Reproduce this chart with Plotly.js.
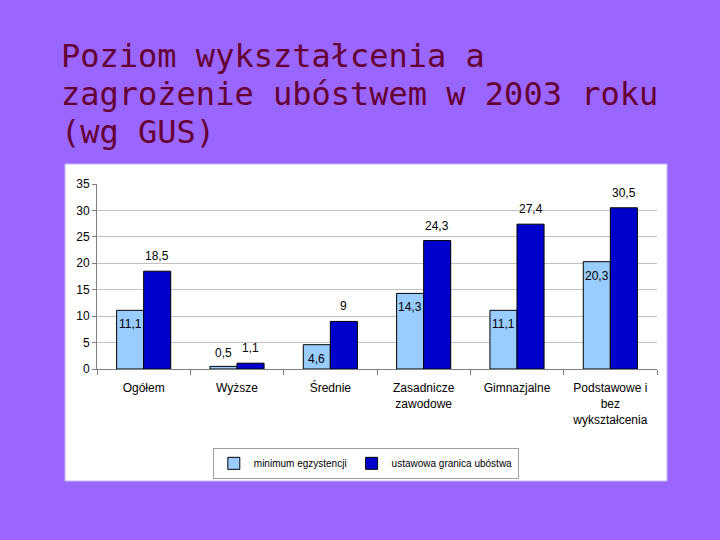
<!DOCTYPE html>
<html>
<head>
<meta charset="utf-8">
<script src="https://cdn.plot.ly/plotly-3.0.1.min.js"></script>
<style>html,body{margin:0;padding:0;background:#9966FF;}</style>
</head>
<body>
<div id="chart" style="width:720px;height:540px;"></div>
<script>
const categories = ["Ogółem", "Wyższe", "Średnie", "Zasadnicze<br>zawodowe", "Gimnazjalne", "Podstawowe i<br>bez<br>wykształcenia"];
const minimumEgzystencji = [11.1, 0.5, 4.6, 14.3, 11.1, 20.3];
const ustawowaGranica = [18.5, 1.1, 9, 24.3, 27.4, 30.5];
const seriesNames = ["minimum egzystencji", "ustawowa granica ubóstwa"];
const titleLines = ["Poziom wykształcenia a", "zagrożenie ubóstwem w 2003 roku", "(wg GUS)"];
const yTicks = [0, 5, 10, 15, 20, 25, 30, 35];

const fmt = v => String(v).replace('.', ',');
const labelFont = {family: "Liberation Sans, Arial, sans-serif", size: 12, color: "#000"};

const traces = [
  {
    type: "bar", name: seriesNames[0], x: categories, y: minimumEgzystencji,
    marker: {color: "#99CCFF", line: {color: "#000", width: 1}},
    hoverinfo: "skip"
  },
  {
    type: "bar", name: seriesNames[1], x: categories, y: ustawowaGranica,
    marker: {color: "#0000CC", line: {color: "#000", width: 1}},
    hoverinfo: "skip"
  }
];

const titleY = [1.69, 1.485, 1.28];
const annotations = titleLines.map((t, i) => ({
  text: t, xref: "paper", yref: "paper",
  x: (62 - 97) / 560, y: titleY[i], xanchor: "left", yanchor: "middle",
  xshift: -3, showarrow: false,
  font: {family: "DejaVu Sans Mono, monospace", size: 32, color: "#660033"}
}));

// value labels for light bars: inside near top if tall enough, else above
minimumEgzystencji.forEach((v, i) => {
  const inside = v > 3;
  annotations.push({
    text: fmt(v), x: categories[i], y: v, xref: "x", yref: "y",
    xshift: -13.5, yshift: inside ? -5 : 4,
    yanchor: inside ? "top" : "bottom", xanchor: "center",
    showarrow: false, font: labelFont
  });
});
// value labels for dark bars: above the bar
ustawowaGranica.forEach((v, i) => {
  annotations.push({
    text: fmt(v), x: categories[i], y: v, xref: "x", yref: "y",
    xshift: 13.5, yshift: 6, yanchor: "bottom", xanchor: "center",
    showarrow: false, font: labelFont
  });
});

const layout = {
  width: 720, height: 540,
  paper_bgcolor: "#9966FF", plot_bgcolor: "#FFFFFF",
  margin: {l: 97, r: 63, t: 184, b: 171},
  barmode: "group", bargap: 0.42, bargroupgap: 0,
  showlegend: true,
  legend: {
    orientation: "h", x: 0.48, xanchor: "center", y: -0.51, yanchor: "middle",
    bgcolor: "#FFFFFF", bordercolor: "#A0A0A0", borderwidth: 1,
    font: {family: "Liberation Sans, Arial, sans-serif", size: 10, color: "#000"},
    itemwidth: 30
  },
  xaxis: {
    tickson: "boundaries", ticks: "outside", ticklen: 5, tickcolor: "#808080",
    showline: true, linecolor: "#808080", linewidth: 1,
    tickfont: labelFont, automargin: false, fixedrange: true,
    ticklabelstandoff: 8
  },
  yaxis: {
    range: [0, 35], tickvals: yTicks, ticks: "outside", ticklen: 4, tickcolor: "#808080",
    showline: true, linecolor: "#808080", linewidth: 1,
    showgrid: true, gridcolor: "#C0C0C0", gridwidth: 1,
    tickfont: labelFont, automargin: false, zeroline: false, fixedrange: true
  },
  shapes: [{
    type: "rect", xref: "paper", yref: "paper", layer: "below",
    x0: (65 - 97) / 560, x1: (667 - 97) / 560,
    y0: (369 - 481) / 185, y1: (369 - 164) / 185,
    fillcolor: "#FFFFFF", line: {color: "#C8B8F0", width: 1}
  }, {
    type: "line", xref: "paper", yref: "y", layer: "above",
    x0: 0.003, x1: 1.01, y0: 35, y1: 35,
    line: {color: "#FFFFFF", width: 2}
  }],
  annotations: annotations,
  separators: ", "
};

Plotly.newPlot("chart", traces, layout, {displayModeBar: false, staticPlot: true});
</script>
</body>
</html>
